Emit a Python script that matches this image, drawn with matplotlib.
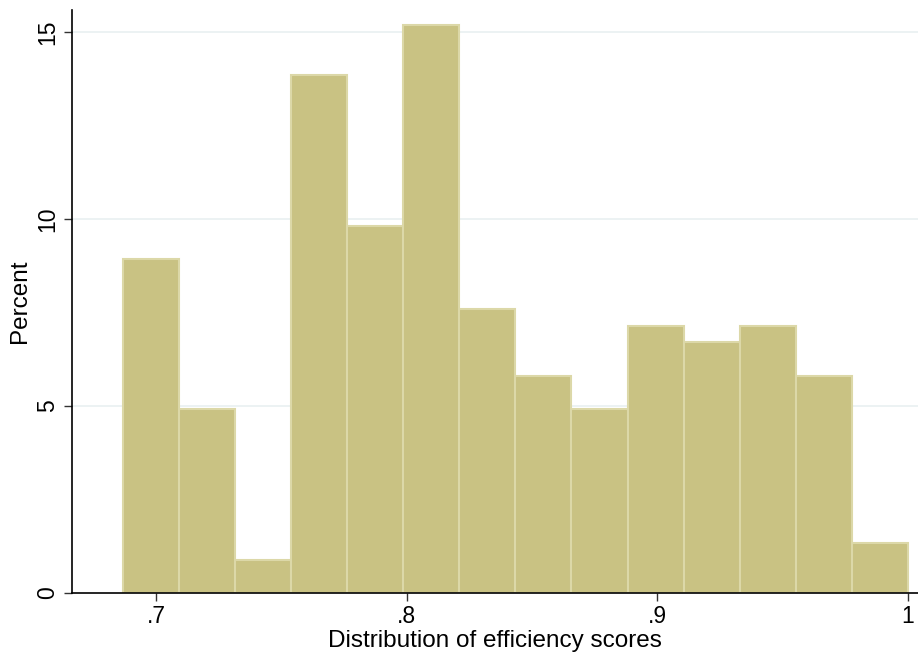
import numpy as np
import matplotlib
matplotlib.use("Agg")
import matplotlib.pyplot as plt

# bin layout (efficiency score) and percent per bin
bin_start = 0.6867
bin_width = 0.02238
percent = [8.93, 4.91, 0.89, 13.84, 9.82, 15.18, 7.59, 5.80,
           4.91, 7.14, 6.70, 7.14, 5.80, 1.34]
x_ticks = [0.7, 0.8, 0.9, 1.0]
x_ticklabels = [".7", ".8", ".9", "1"]
y_ticks = [0, 5, 10, 15]

plt.rcParams['font.family'] = ['Liberation Sans', 'DejaVu Sans']

fig = plt.figure(figsize=(9.18, 6.55), dpi=100)
ax = fig.add_axes([0.0784, 0.0947, 0.9216, 0.8903])

lefts = bin_start + bin_width * np.arange(len(percent))
ax.bar(lefts, percent, width=bin_width, align='edge',
       color='#c9c283', edgecolor='#dcd8a8', linewidth=1.5, zorder=2)

ax.set_xlim(0.6665, 1.004)
ax.set_ylim(0, 15.59)
ax.set_xticks(x_ticks)
ax.set_xticklabels(x_ticklabels)
ax.set_yticks(y_ticks)
ax.set_yticklabels([str(v) for v in y_ticks], rotation=90, va='center')
ax.tick_params(labelsize=16.5, length=6, width=1, color='#333333', pad=3)
for v in y_ticks[1:]:
    ax.axhline(v, color='#e9f0f1', linewidth=1.2, zorder=0)

for s in ['top', 'right']:
    ax.spines[s].set_visible(False)
for s in ['left', 'bottom']:
    ax.spines[s].set_linewidth(1.2)
    ax.spines[s].set_color('black')

ax.set_xlabel('Distribution of efficiency scores', fontsize=17.5, labelpad=1)
ax.set_ylabel('Percent', fontsize=17.5, labelpad=4)

fig.savefig('out.png', dpi=100)
